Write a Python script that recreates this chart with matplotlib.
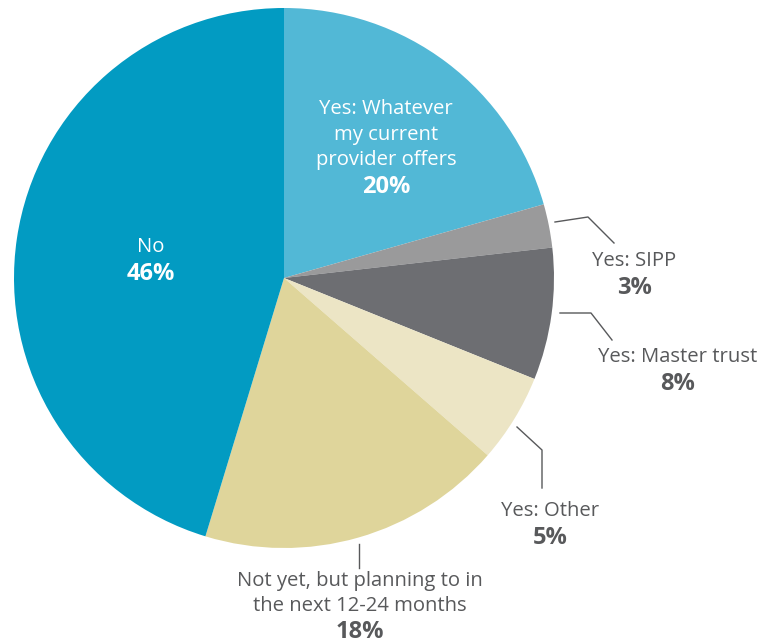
import matplotlib.pyplot as plt

names = ['Yes: Whatever\nmy current\nprovider offers', 'Yes: SIPP', 'Yes: Master trust',
         'Yes: Other', 'Not yet, but planning to in\nthe next 12-24 months', 'No']
pct_labels = ['20%', '3%', '8%', '5%', '18%', '46%']
# slice sizes (labels are rounded)
values = [20.6, 2.6, 7.9, 5.3, 18.3, 45.3]
colors = ['#52b8d6', '#9a9a9b', '#6d6e72', '#ece5c5', '#dfd59b', '#029bc2']

W, H = 758, 644
fig = plt.figure(figsize=(W / 100, H / 100), dpi=100)
ax = fig.add_axes([0, 0, 1, 1])

cx, cy, r = 284, H - 278, 270
ax.pie(values, colors=colors, startangle=90, counterclock=False,
       center=(cx, cy), radius=r, wedgeprops=dict(linewidth=0), frame=True)
ax.set_xlim(0, W)
ax.set_ylim(0, H)
ax.set_aspect('equal')
ax.axis('off')

grey = '#58595b'
font = 'Open Sans'
fs = 14.6

def label(x, y, name, pct, color=grey, step=25.5):
    lines = name.split('\n')
    for i, s in enumerate(lines):
        ax.text(x, H - (y + i * step), s, ha='center', va='center', color=color,
                fontsize=fs, family=font)
    ax.text(x, H - (y + len(lines) * step + 1), pct, ha='center', va='center',
            color=color, fontsize=17, family=font, fontweight='bold')

# leader lines (pixel coords from top)
leaders = [
    [(555, 222), (588, 217), (614, 243)],
    [(560, 313), (591, 313), (612, 340)],
    [(517, 427), (542, 450), (542, 488)],
    [(359, 544), (359, 568)],
]
for pts in leaders:
    ax.plot([p[0] for p in pts], [H - p[1] for p in pts], color=grey, lw=1)

label(386, 109, names[0], pct_labels[0], color='white')
label(634, 261, names[1], pct_labels[1])
label(678, 357, names[2], pct_labels[2])
label(550, 511, names[3], pct_labels[3])
label(360, 581, names[4], pct_labels[4], step=25)
label(151, 247, names[5], pct_labels[5], color='white')

fig.savefig('out.png', dpi=100)
